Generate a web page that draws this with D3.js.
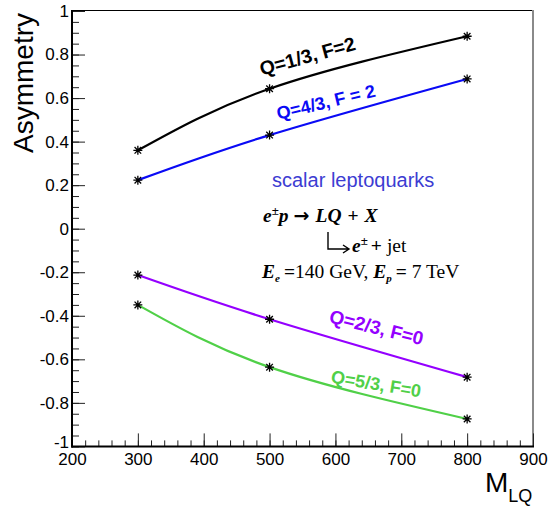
<!DOCTYPE html>
<html>
<head>
<meta charset="utf-8">
<script src="https://cdn.jsdelivr.net/npm/d3@7"></script>
<style>
  html, body { margin: 0; padding: 0; background: #fff; }
  svg { display: block; }
</style>
</head>
<body>
<div id="chart"></div>
<script>
// ---------------- data ----------------
const masses = [300, 500, 800];                 // M_LQ (GeV)
const asymQ13F2 = [0.360, 0.643, 0.884];         // Q=1/3, F=2
const asymQ43F2 = [0.223, 0.430, 0.688];         // Q=4/3, F=2
const asymQ23F0 = [-0.213, -0.416, -0.682];      // Q=2/3, F=0
const asymQ53F0 = [-0.350, -0.636, -0.874];      // Q=5/3, F=0
const xTickValues = [200, 300, 400, 500, 600, 700, 800, 900];
const yTickValues = [-1, -0.8, -0.6, -0.4, -0.2, 0, 0.2, 0.4, 0.6, 0.8, 1];
const seriesNames = ["Q=1/3, F=2", "Q=4/3, F = 2", "Q=2/3, F=0", "Q=5/3, F=0"];

// ---------------- layout ----------------
const W = 551, H = 510;
const X0 = 72, X1 = 533, Y0 = 446.4, Y1 = 11;
const seriesColors = ["#000000", "#0a0af5", "#9400ff", "#50d048"];
// label anchor (data coords), rotation, font size
const labelPos = [
  {x: 488, y: 0.703, rot: -15.3, size: 19.5},
  {x: 513, y: 0.500, rot: -13.4, size: 18},
  {x: 589, y: -0.430, rot: 13.9, size: 19},
  {x: 592, y: -0.707, rot: 9.4, size: 18}
];

const svg = d3.select("#chart").append("svg")
  .attr("width", W).attr("height", H)
  .attr("font-family", "'Liberation Sans', Arial, Helvetica, sans-serif");

const x = d3.scaleLinear().domain([200, 900]).range([X0, X1]);
const y = d3.scaleLinear().domain([-1, 1]).range([Y0, Y1]);

// frame: top & right
svg.append("line").attr("x1", X0).attr("x2", X1).attr("y1", Y1 - 0.5).attr("y2", Y1 - 0.5)
  .attr("stroke", "#000").attr("stroke-width", 1.2);
svg.append("line").attr("x1", X1).attr("x2", X1).attr("y1", Y1 - 1).attr("y2", Y0)
  .attr("stroke", "#8a8a8a").attr("stroke-width", 2);

// minor ticks
const yMinor = d3.range(-1, 1.0001, 0.05).map(v => +v.toFixed(2));
const xMinor = d3.range(200, 900.001, 20);
const gyMinor = svg.append("g").attr("transform", `translate(${X0},0)`)
  .call(d3.axisLeft(y).tickValues(yMinor).tickSize(-7).tickFormat(""));
const gxMinor = svg.append("g").attr("transform", `translate(0,${Y0})`)
  .call(d3.axisBottom(x).tickValues(xMinor).tickSize(-6).tickFormat(""));
[gyMinor, gxMinor].forEach(g => {
  g.select(".domain").remove();
  g.selectAll(".tick line").attr("stroke", "#222").attr("stroke-width", 1);
});

// major ticks + labels
const fmtY = v => String(+v.toFixed(1));
const gy = svg.append("g").attr("transform", `translate(${X0},0)`)
  .call(d3.axisLeft(y).tickValues(yTickValues).tickSize(-13).tickPadding(3).tickFormat(fmtY));
const gx = svg.append("g").attr("transform", `translate(0,${Y0})`)
  .call(d3.axisBottom(x).tickValues(xTickValues).tickSize(-13).tickPadding(7).tickFormat(d3.format("d")));
[gy, gx].forEach(g => {
  g.select(".domain").remove();
  g.selectAll(".tick line").attr("stroke", "#222").attr("stroke-width", 1);
  g.selectAll(".tick text").attr("fill", "#000")
    .attr("font-family", "'Liberation Sans', Arial, sans-serif").attr("font-size", 17);
});
// the "-1" label sits at the corner, partly under "200" as in the original
gy.selectAll(".tick text").filter(d => d === -1).attr("dy", "0.05em");

// axis lines
svg.append("line").attr("x1", X0).attr("x2", X0).attr("y1", Y1 - 1).attr("y2", Y0 + 1)
  .attr("stroke", "#000").attr("stroke-width", 2);
svg.append("line").attr("x1", X0 - 1).attr("x2", X1 + 1).attr("y1", Y0).attr("y2", Y0)
  .attr("stroke", "#000").attr("stroke-width", 2);

// axis titles
svg.append("text").attr("transform", `translate(33,13) rotate(-90)`)
  .attr("text-anchor", "end").attr("font-size", 28).text("Asymmetry");
const mt = svg.append("text").attr("x", 485).attr("y", 492).attr("font-size", 28);
mt.append("tspan").text("M");
mt.append("tspan").attr("font-size", 18).attr("dy", 10).text("LQ");

// curves
const allSeries = [asymQ13F2, asymQ43F2, asymQ23F0, asymQ53F0];
const line = d3.line().x(d => x(d[0])).y(d => y(d[1])).curve(d3.curveNatural);
allSeries.forEach((vals, i) => {
  const pts = masses.map((m, j) => [m, vals[j]]);
  svg.append("path").attr("d", line(pts)).attr("fill", "none")
    .attr("stroke", seriesColors[i]).attr("stroke-width", 2.2);
});
// markers
const star = "M-4.5,0H4.5M0,-4.5V4.5M-3.3,-3.3L3.3,3.3M-3.3,3.3L3.3,-3.3";
allSeries.forEach((vals) => {
  masses.forEach((m, j) => {
    svg.append("path").attr("d", star)
      .attr("transform", `translate(${x(m)},${y(vals[j])})`)
      .attr("stroke", "#000").attr("stroke-width", 1.3).attr("fill", "none");
  });
});

// series labels
seriesNames.forEach((name, i) => {
  const p = labelPos[i];
  svg.append("text")
    .attr("transform", `translate(${x(p.x)},${y(p.y)}) rotate(${p.rot})`)
    .attr("font-size", p.size).attr("font-weight", "bold")
    .attr("fill", seriesColors[i]).text(name);
});

// annotation
svg.append("text").attr("x", 272).attr("y", 187).attr("font-size", 20)
  .attr("fill", "#3c3cd2").text("scalar leptoquarks");

const serif = "'Liberation Serif', 'Times New Roman', serif";
const FS = 19.5;
const ann = svg.append("g").attr("font-family", serif).attr("fill", "#000").attr("font-size", FS);
const bi = t => t.attr("font-weight", "bold").attr("font-style", "italic");

// line 1: e±p → LQ + X
const l1 = ann.append("text").attr("x", 263).attr("y", 222);
bi(l1.append("tspan").text("e"));
l1.append("tspan").attr("font-size", 13).attr("font-weight", "bold").attr("dy", -7).text("±");
bi(l1.append("tspan").attr("dy", 7).text("p"));
l1.append("tspan").attr("dx", 5).attr("font-family", "'DejaVu Sans', sans-serif")
  .attr("font-weight", "bold").attr("font-size", 19).text("→");
bi(l1.append("tspan").attr("dx", 6).text("LQ"));
l1.append("tspan").attr("dx", 6).attr("font-weight", "bold").text("+");
bi(l1.append("tspan").attr("dx", 6).text("X"));

// line 2: hook arrow, e± + jet
ann.append("path").attr("d", "M328,232V249H348M343,245L349,249L343,253")
  .attr("fill", "none").attr("stroke", "#000").attr("stroke-width", 1.4);
const l2 = ann.append("text").attr("x", 352).attr("y", 252);
bi(l2.append("tspan").text("e"));
l2.append("tspan").attr("font-size", 13).attr("font-weight", "bold").attr("dy", -7).text("±");
l2.append("tspan").attr("dy", 7).attr("dx", 3).attr("font-weight", "bold").text("+");
l2.append("tspan").attr("dx", 5).text("jet");

// line 3: E_e = 140 GeV, E_p = 7 TeV
const l3 = ann.append("text").attr("x", 262).attr("y", 278);
bi(l3.append("tspan").text("E"));
bi(l3.append("tspan").attr("font-size", 11).attr("dy", 4).text("e"));
l3.append("tspan").attr("dy", -4).attr("dx", 4).attr("font-weight", "bold").text("=");
l3.append("tspan").text("140 GeV, ");
bi(l3.append("tspan").text("E"));
bi(l3.append("tspan").attr("font-size", 11).attr("dy", 4).text("p"));
l3.append("tspan").attr("dy", -4).attr("dx", 4).attr("font-weight", "bold").text("=");
l3.append("tspan").text(" 7 TeV");
</script>
</body>
</html>
